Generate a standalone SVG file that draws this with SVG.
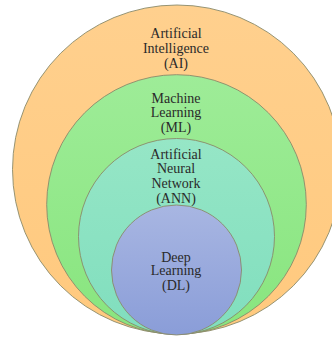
<svg xmlns="http://www.w3.org/2000/svg" width="332" height="338" viewBox="0 0 332 338">
<defs>
<linearGradient id="gAI" x1="0" y1="0" x2="0" y2="1"><stop offset="0" stop-color="#FFD08E"/><stop offset="1" stop-color="#FFC97E"/></linearGradient>
<linearGradient id="gML" x1="0" y1="0" x2="0" y2="1"><stop offset="0" stop-color="#9EEC98"/><stop offset="1" stop-color="#88E57E"/></linearGradient>
<linearGradient id="gANN" x1="0" y1="0" x2="0" y2="1"><stop offset="0" stop-color="#96E6C6"/><stop offset="1" stop-color="#80DEBE"/></linearGradient>
<linearGradient id="gDL" x1="0" y1="0" x2="0" y2="1"><stop offset="0" stop-color="#A8B6E2"/><stop offset="1" stop-color="#8A9DD8"/></linearGradient>
</defs>
<style>
.c{stroke:#8a8a6a;stroke-width:0.9}
text{font-family:"Liberation Serif","Times New Roman",serif;font-size:14px;fill:#2a2a2a;text-anchor:middle}
</style>
<rect width="332" height="338" fill="#ffffff"/>
<g id="ai">
<circle class="c" cx="177" cy="169.5" r="164.5" fill="url(#gAI)"/>
<text x="176" y="37.5">Artificial</text>
<text x="176" y="52.5">Intelligence</text>
<text x="176" y="67.5">(AI)</text>
</g>
<g id="ml">
<circle class="c" cx="176.5" cy="204.5" r="129.8" fill="url(#gML)"/>
<text x="176" y="102.5">Machine</text>
<text x="176" y="117">Learning</text>
<text x="176" y="131.5">(ML)</text>
</g>
<g id="ann">
<circle class="c" cx="176.5" cy="236.5" r="98" fill="url(#gANN)"/>
<text x="176" y="158.5">Artificial</text>
<text x="176" y="173">Neural</text>
<text x="176" y="187.5">Network</text>
<text x="176" y="202.5">(ANN)</text>
</g>
<g id="dl">
<circle class="c" cx="176.5" cy="270" r="65" fill="url(#gDL)"/>
<text x="176" y="261.5">Deep</text>
<text x="176" y="275">Learning</text>
<text x="176" y="289.5">(DL)</text>
</g>
<g id="connectors"/>
</svg>
